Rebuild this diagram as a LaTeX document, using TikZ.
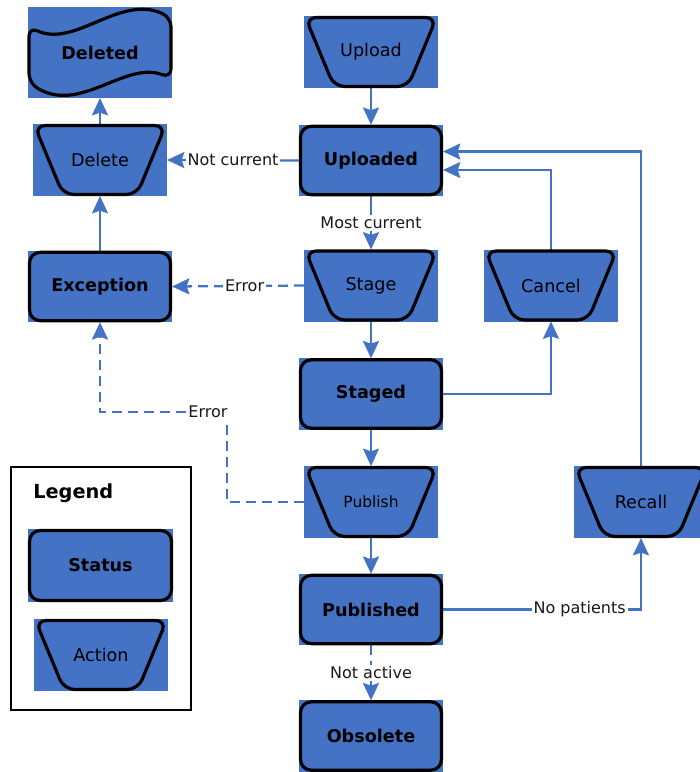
\documentclass[tikz,border=0pt]{standalone}
\usepackage{fontspec}
\setmainfont{DejaVu Sans}
\usetikzlibrary{arrows.meta,calc}
\definecolor{boxblue}{HTML}{4472C4}
\definecolor{linkblue}{HTML}{4472C4}

\tikzset{
  base/.style={rectangle, fill=boxblue, draw=none, inner sep=0pt, outer sep=0pt, text=black, align=center},
  status/.style={base, minimum width=108pt, minimum height=53.5pt, font=\fontsize{13.2}{15}\selectfont\bfseries},
  action/.style={base, minimum width=100.5pt, minimum height=54pt, font=\fontsize{13.2}{15}\selectfont},
  link/.style={draw=linkblue, line width=1.7pt, -{Stealth[length=13pt,width=12pt,inset=2pt]}},
  dashlink/.style={link, dash pattern=on 7.5pt off 4.5pt},
  lbl/.style={fill=white, inner sep=1.5pt, text=black!90, font=\fontsize{12}{13}\selectfont},
  outline/.style={draw=black, line width=2.4pt},
}

\begin{document}
\begin{tikzpicture}[x=0.75pt,y=-0.75pt]
\useasboundingbox (0,0) rectangle (700,772);

% status and action blocks
\node[base, minimum width=108pt, minimum height=68.25pt, font=\fontsize{13.2}{15}\selectfont\bfseries] (deleted) at (100,52.5) {Deleted};
\node[action] (upload) at (371,52) {Upload};
\node[status] (uploaded) at (371,160.5) {Uploaded};
\node[action] (delete) at (100,160) {Delete};
\node[status] (exception) at (100,286.5) {Exception};
\node[action] (stage) at (371,285.5) {Stage};
\node[action] (cancel) at (551,285.5) {Cancel};
\node[status] (staged) at (371,394) {Staged};
\node[action, font=\fontsize{11.6}{13}\selectfont] (publish) at (371,502) {Publish};
\node[action] (recall) at (641,502) {Recall};
\node[status] (published) at (371,609.5) {Published};
\node[status] (obsolete) at (371,736) {Obsolete};

% legend
\draw[line width=0.8pt] (11,467) rectangle (191,710);
\node[anchor=west, inner sep=0pt, font=\fontsize{14.5}{16}\selectfont\bfseries] (legendtitle) at (33,493) {Legend};
\node[status, minimum width=108.75pt, minimum height=54.75pt] (legstatus) at (100.5,565.5) {Status};
\node[action] (legaction) at (101,655) {Action};

% transitions
\draw[link] (upload.south) -- (uploaded.north);
\draw[link] (uploaded.west) -- node[lbl]{Not current} (delete.east);
\draw[link] (uploaded.south) -- node[lbl]{Most current} (stage.north);
\draw[dashlink] (stage.west) -- node[lbl, pos=0.45]{Error} (exception.east);
\draw[link] (stage.south) -- (staged.north);
\draw[link] (staged.east) -| (cancel.south);
\draw[link] (cancel.north) |- ($(uploaded.east)+(0,9.5)$);
\draw[link] (recall.north) |- ($(uploaded.east)+(0,-9)$);
\draw[link] (staged.south) -- (publish.north);
\draw[dashlink] (publish.west) -- ++(-77,0) -- ++(0,-90) -- node[lbl, pos=0.15]{Error} ++(-127,0) -- (exception.south);
\draw[link] (publish.south) -- (published.north);
\draw[link] (published.east) -- node[lbl, pos=0.69]{No patients} (published.east -| recall.south) -- (recall.south);
\draw[dashlink] (published.south) -- node[lbl]{Not active} (obsolete.north);
\draw[link] (exception.north) -- (delete.south);
\draw[link] (delete.north) -- (deleted.south);

% rounded outlines of the status blocks
\foreach \n in {uploaded,exception,staged,published,obsolete,legstatus}
  \draw[outline, rounded corners=8pt] ($(\n.north west)+(1.5,1.5)$) rectangle ($(\n.south east)+(-1.5,-1.5)$);

% manual-operation outlines of the action blocks
\foreach \n in {upload,delete,stage,cancel,publish,recall,legaction}
  \draw[outline, rounded corners=8pt] ($(\n.north west)+(1.5,1.5)$) -- ($(\n.north east)+(-1.5,1.5)$)
    -- ($(\n.south east)+(-30,-1.5)$) -- ($(\n.south west)+(30,-1.5)$) -- cycle;

% wavy outline of the deleted block
\begin{scope}[shift={(deleted.center)}]
  \draw[outline, rounded corners=7pt] (-71,-25.5) .. controls (-25,-4.5) and (20,-58.5) .. (71,-35)
    -- (71,25.5) .. controls (25,8) and (-20,62) .. (-71,30.5) -- cycle;
\end{scope}
\end{tikzpicture}
\end{document}
